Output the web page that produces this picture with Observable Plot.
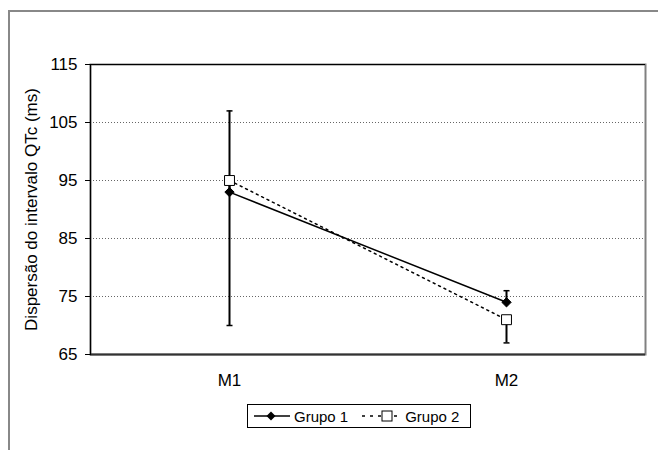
<!DOCTYPE html>
<html>
<head>
<meta charset="utf-8">
<script src="https://cdn.jsdelivr.net/npm/d3@7"></script>
<script src="https://cdn.jsdelivr.net/npm/@observablehq/plot@0.6"></script>
<style>
  html, body { margin: 0; padding: 0; background: #fff; overflow: hidden; width: 658px; height: 450px; }
  #outer { position: absolute; left: 8px; top: 10px; width: 700px; height: 500px;
           border-left: 2px solid #888; border-top: 2px solid #888; }
  #chart { position: absolute; left: 0; top: 0; }
  #legend { position: absolute; left: 247px; top: 404px; width: 222px; height: 22px;
            border: 1px solid #000; background: #fff; font-family: "Liberation Sans", Arial, sans-serif;
            font-size: 15px; display: flex; align-items: center; }
  #legend span { display: inline-flex; align-items: center; }
  #legend svg { display: block; }
</style>
</head>
<body>
<div id="outer"></div>
<div id="chart"></div>
<div id="legend"></div>
<script>
// ---- data ----
const categories = ["M1", "M2"];
const seriesNames = ["Grupo 1", "Grupo 2"];
const grupo1 = [93, 74];
const grupo2 = [95, 71];
const grupo1Upper = [107, 76];   // upper error bar ends (Grupo 1)
const grupo2Lower = [70, 67];    // lower error bar ends (Grupo 2)
const yTicks = [65, 75, 85, 95, 105, 115];
const gridTicks = [75, 85, 95, 105];
const yLabel = "Dispersão do intervalo QTc (ms)";

const rows = categories.map((c, i) => ({
  cat: c, g1: grupo1[i], g2: grupo2[i], g1hi: grupo1Upper[i], g2lo: grupo2Lower[i]
}));

const capSymbol = {
  draw(context, size) {
    const r = Math.sqrt(size / Math.PI);
    context.moveTo(-r, 0);
    context.lineTo(r, 0);
  }
};

const plot = Plot.plot({
  width: 658,
  height: 395,
  marginLeft: 90,
  marginRight: 13,
  marginTop: 64,
  marginBottom: 41,
  style: { fontFamily: "'Liberation Sans', Arial, sans-serif", fontSize: "17px", background: "transparent", overflow: "visible", color: "#000" },
  x: { type: "point", domain: categories, padding: 0.5 },
  y: { domain: [65, 115] },
  marks: [
    Plot.gridY(gridTicks, { stroke: "#666", strokeOpacity: 1, strokeDasharray: "1,2" }),
    Plot.frame({ stroke: "#808080", strokeWidth: 2 }),
    Plot.ruleY([115], { stroke: "#000", strokeWidth: 1.2 }),
    Plot.ruleY([65], { stroke: "#333", strokeWidth: 2 }),
    Plot.frame({ anchor: "left", stroke: "#000", strokeWidth: 1.2 }),
    Plot.axisY({
      ticks: yTicks, tickSize: 5, tickPadding: 8, fontSize: 17,
      label: yLabel, labelAnchor: "center", labelArrow: "none", labelOffset: 66
    }),
    Plot.axisX({ tickSize: 0, tickPadding: 19, fontSize: 17, label: null }),
    // series lines
    Plot.line(rows, { x: "cat", y: "g2", stroke: "#000", strokeWidth: 1.5, strokeDasharray: "2,4" }),
    Plot.line(rows, { x: "cat", y: "g1", stroke: "#000", strokeWidth: 1.5 }),
    // error bars
    Plot.ruleX(rows, { x: "cat", y1: "g1", y2: "g1hi", stroke: "#000", strokeWidth: 2 }),
    Plot.ruleX(rows, { x: "cat", y1: "g2", y2: "g2lo", stroke: "#000", strokeWidth: 2 }),
    Plot.dot(rows, { x: "cat", y: "g1hi", symbol: capSymbol, r: 3, stroke: "#000", strokeWidth: 1.5, fill: "none" }),
    Plot.dot(rows, { x: "cat", y: "g2lo", symbol: capSymbol, r: 3, stroke: "#000", strokeWidth: 1.5, fill: "none" }),
    // markers
    Plot.dot(rows, { x: "cat", y: "g1", symbol: "diamond2", r: 4.2, fill: "#000", stroke: "#000", strokeWidth: 1 }),
    Plot.dot(rows, { x: "cat", y: "g2", symbol: "square", r: 5.6, fill: "#fff", stroke: "#000", strokeWidth: 1 })
  ]
});
document.getElementById("chart").appendChild(plot);

// ---- legend ----
const legend = document.getElementById("legend");
const swatches = [
  `<svg width="38" height="14"><line x1="1" y1="7" x2="37" y2="7" stroke="#000" stroke-width="1.5"/><path d="M18,2.5L22.5,7L18,11.5L13.5,7Z" fill="#000"/></svg>`,
  `<svg width="44" height="14"><line x1="2" y1="7" x2="42" y2="7" stroke="#000" stroke-width="1.5" stroke-dasharray="3,5"/><rect x="22" y="2" width="10" height="10" fill="#fff" stroke="#000"/></svg>`
];
seriesNames.forEach((name, i) => {
  const s = document.createElement("span");
  s.style.marginLeft = i === 0 ? "5px" : "12px";
  s.innerHTML = swatches[i] + `<span style="margin-left:${i === 0 ? 3 : 1}px">${name}</span>`;
  legend.appendChild(s);
});
</script>
</body>
</html>
